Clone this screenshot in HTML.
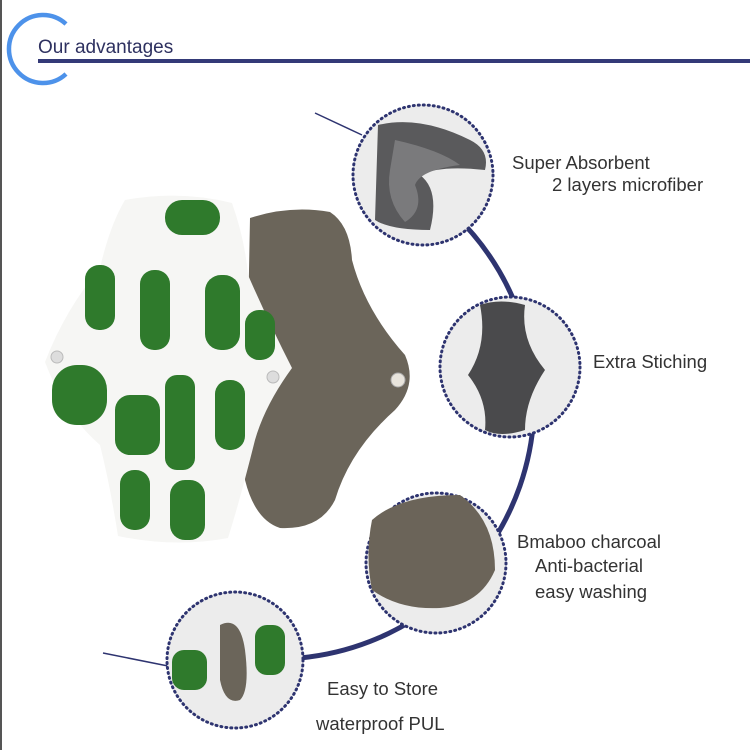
<!DOCTYPE html>
<html><head><meta charset="utf-8"><style>
body{margin:0;width:750px;height:750px;background:#fff;overflow:hidden;font-family:"Liberation Sans",sans-serif}
</style></head><body>
<svg width="750" height="750" viewBox="0 0 750 750" xmlns="http://www.w3.org/2000/svg">
<rect x="0" y="0" width="2" height="750" fill="#555"/>
<path d="M 66 24 A 34 34 0 1 0 66 74" fill="none" stroke="#4d92ea" stroke-width="4.5"/>
<text x="38" y="53" font-size="19" fill="#2e3160" font-family="Liberation Sans, sans-serif">Our advantages</text>
<rect x="38" y="59" width="712" height="4" fill="#343a78"/>

<!-- big arc -->
<path d="M 455 215 A 258 258 0 0 1 300 658" fill="none" stroke="#2e3470" stroke-width="5"/>
<line x1="315" y1="113" x2="362" y2="135" stroke="#2e3470" stroke-width="1.5"/>
<line x1="103" y1="653" x2="168" y2="666" stroke="#2e3470" stroke-width="1.5"/>

<!-- gray pad -->
<path d="M 250 218 Q 290 205 330 212 Q 350 225 352 260 Q 365 310 405 355 Q 418 385 395 410 Q 350 450 335 500 Q 320 530 280 528 Q 255 520 245 480 Z" fill="#6b655a"/>
<!-- white pad -->
<path d="M 125 200 Q 180 190 232 203 Q 245 240 248 275 Q 270 325 292 368 Q 265 405 255 440 Q 240 500 228 538 Q 175 548 118 536 Q 110 485 100 445 Q 65 415 45 362 Q 65 310 100 268 Q 110 225 125 200 Z" fill="#f6f6f4"/>
<g fill="#2f7a2c">
<rect x="165" y="200" width="55" height="35" rx="17"/>
<rect x="85" y="265" width="30" height="65" rx="14"/>
<rect x="140" y="270" width="30" height="80" rx="14"/>
<rect x="205" y="275" width="35" height="75" rx="16"/>
<rect x="52" y="365" width="55" height="60" rx="25"/>
<rect x="165" y="375" width="30" height="95" rx="12"/>
<rect x="215" y="380" width="30" height="70" rx="14"/>
<rect x="120" y="470" width="30" height="60" rx="14"/>
<rect x="170" y="480" width="35" height="60" rx="15"/>
<rect x="115" y="395" width="45" height="60" rx="15"/>
<rect x="245" y="310" width="30" height="50" rx="14"/>
</g>
<circle cx="57" cy="357" r="6" fill="#ddd" stroke="#bbb"/>
<circle cx="273" cy="377" r="6" fill="#ddd" stroke="#bbb"/>
<circle cx="398" cy="380" r="7" fill="#e8e4dc" stroke="#aaa"/>

<!-- circles -->
<g stroke="#2e3470" stroke-width="3" stroke-dasharray="1 4" stroke-linecap="round">
<circle cx="423" cy="175" r="70" fill="#ececec"/>
<circle cx="510" cy="367" r="70" fill="#ececec"/>
<circle cx="436" cy="563" r="70" fill="#ececec"/>
<circle cx="235" cy="660" r="68" fill="#ececec"/>
</g>
<path d="M 378 125 Q 420 115 470 140 Q 490 150 485 170 Q 440 165 420 175 Q 440 190 430 230 Q 390 230 375 220 Z" fill="#5a5a5c"/>
<path d="M 395 140 Q 440 150 460 165 Q 420 170 415 185 Q 425 210 405 222 Q 385 200 390 170 Z" fill="#7a7a7c"/>
<path d="M 480 305 Q 500 298 525 305 Q 520 340 545 370 Q 525 400 525 430 Q 500 438 485 430 Q 488 400 468 375 Q 488 345 480 305 Z" fill="#4a4a4c"/>
<path d="M 372 520 Q 400 495 460 495 Q 495 520 495 570 Q 480 605 440 608 Q 400 610 372 590 Q 365 555 372 520 Z" fill="#6b6459"/>
<path d="M 220 625 Q 240 615 245 650 Q 250 690 240 700 Q 225 705 220 680 Z" fill="#6b655a"/>
<rect x="172" y="650" width="35" height="40" rx="12" fill="#2f7a2c"/>
<rect x="255" y="625" width="30" height="50" rx="12" fill="#2f7a2c"/>

<g font-size="18.5" fill="#333" font-family="Liberation Sans, sans-serif">
<text x="512" y="169">Super Absorbent</text>
<text x="552" y="191">2 layers microfiber</text>
<text x="593" y="368">Extra Stiching</text>
<text x="517" y="548">Bmaboo charcoal</text>
<text x="535" y="572">Anti-bacterial</text>
<text x="535" y="598">easy washing</text>
<text x="327" y="695">Easy to Store</text>
<text x="316" y="730">waterproof PUL</text>
</g>
</svg>
</body></html>
